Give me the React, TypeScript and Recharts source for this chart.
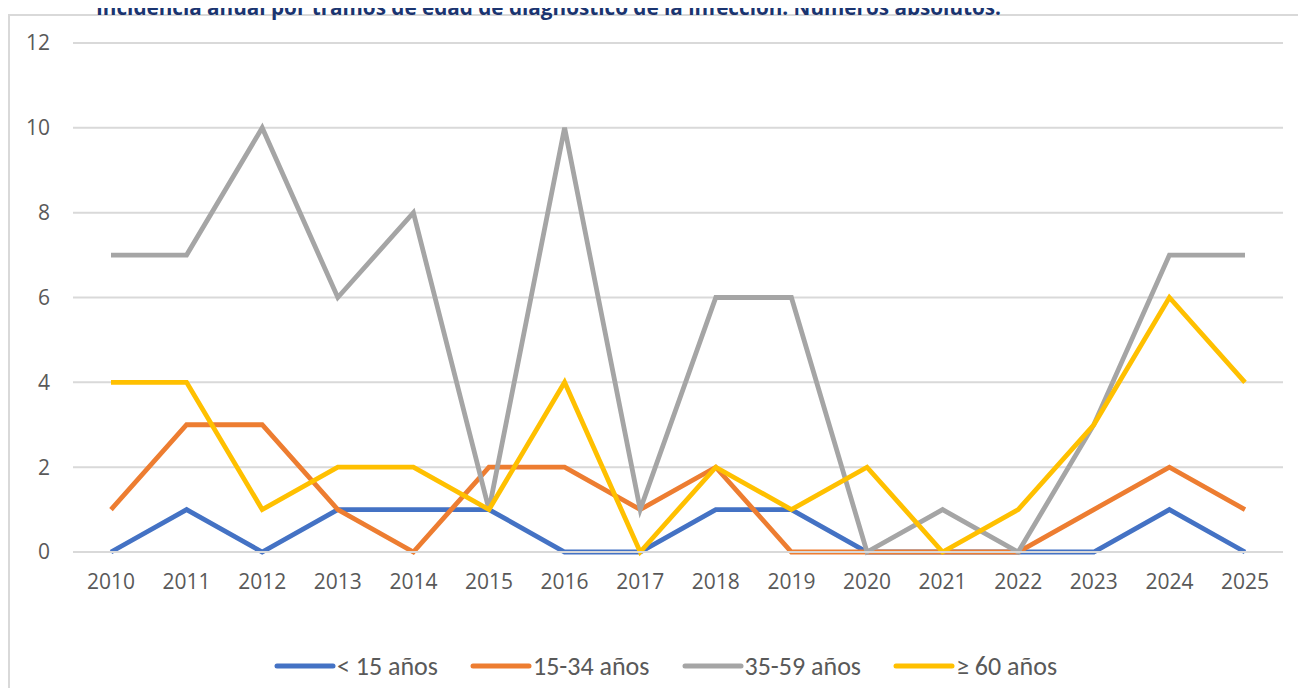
import { LineChart, Line, XAxis, YAxis, CartesianGrid, Legend } from "recharts";

const years = ["2010", "2011", "2012", "2013", "2014", "2015", "2016", "2017", "2018", "2019", "2020", "2021", "2022", "2023", "2024", "2025"];
const menos15 = [0, 1, 0, 1, 1, 1, 0, 0, 1, 1, 0, 0, 0, 0, 1, 0];
const de15a34 = [1, 3, 3, 1, 0, 2, 2, 1, 2, 0, 0, 0, 0, 1, 2, 1];
const de35a59 = [7, 7, 10, 6, 8, 1, 10, 1, 6, 6, 0, 1, 0, 3, 7, 7];
const mas60 = [4, 4, 1, 2, 2, 1, 4, 0, 2, 1, 2, 0, 1, 3, 6, 4];
const yTicks = [0, 2, 4, 6, 8, 10, 12];

const series = [
  { key: "a", name: "< 15 años", color: "#4472C4", values: menos15 },
  { key: "b", name: "15-34 años", color: "#ED7D31", values: de15a34 },
  { key: "c", name: "35-59 años", color: "#A5A5A5", values: de35a59 },
  { key: "d", name: "≥ 60 años", color: "#FFC000", values: mas60 },
];

const data = years.map((year, i) => {
  const row: Record<string, string | number> = { year };
  series.forEach((s) => (row[s.key] = s.values[i]));
  return row;
});

const font = "Calibri, 'Liberation Sans Narrow', 'Open Sans', sans-serif";
const tickStyle = { fontSize: 21, fill: "#595959", fontFamily: "'Open Sans', sans-serif" };

function LegendBox() {
  return (
    <div style={{ display: "flex", justifyContent: "center", alignItems: "center", height: 30, gap: 32, paddingLeft: 40 }}>
      {series.map((s) => (
        <div key={s.key} style={{ display: "flex", alignItems: "center" }}>
          <svg width={62} height={10}>
            <line x1={3} y1={5} x2={59} y2={5} stroke={s.color} strokeWidth={5} strokeLinecap="round" />
          </svg>
          <span style={{ fontFamily: font, fontSize: 26, color: "#595959", marginLeft: 1 }}>{s.name}</span>
        </div>
      ))}
    </div>
  );
}

export default function App() {
  return (
    <div style={{ position: "relative", width: 1290, height: 680 }}>
      <div
        style={{
          position: "absolute", left: 0, top: 6, width: 1290, height: 682,
          borderLeft: "2px solid #D9D9D9", borderTop: "2px solid #D9D9D9", boxSizing: "border-box",
        }}
      />
      <svg style={{ position: "absolute", left: 0, top: -20, zIndex: 2 }} width={1290} height={40}>
        <text x={88} y={27} textLength={905} lengthAdjust="spacingAndGlyphs"
          style={{ fontFamily: "'Open Sans', sans-serif", fontWeight: 700, fontSize: 22, fill: "#1A3470" }}>
          Incidencia anual por tramos de edad de diagnóstico de la infección. Números absolutos.
        </text>
      </svg>
      <div style={{ position: "absolute", left: 0, top: 0 }}>
        <LineChart width={1290} height={688} data={data} margin={{ top: 35, right: 15, left: 0, bottom: 15 }}>
          <CartesianGrid vertical={false} stroke="#D9D9D9" strokeWidth={2} />
          <XAxis dataKey="year" axisLine={{ stroke: "#D9D9D9", strokeWidth: 2 }} tickLine={false} tickSize={0}
            tickMargin={22} height={99} tick={tickStyle} interval={0} padding={{ left: 38, right: 38 }} />
          <YAxis domain={[0, 12]} ticks={yTicks} axisLine={false} tickLine={false} tickSize={0}
            tickMargin={23} width={65} tick={tickStyle} />
          <Legend verticalAlign="bottom" content={() => <LegendBox />} />
          {series.map((s) => (
            <Line key={s.key} dataKey={s.key} name={s.name} stroke={s.color} strokeWidth={4.8} dot={false}
              type="linear" isAnimationActive={false} strokeLinejoin="miter" />
          ))}
        </LineChart>
      </div>
    </div>
  );
}
